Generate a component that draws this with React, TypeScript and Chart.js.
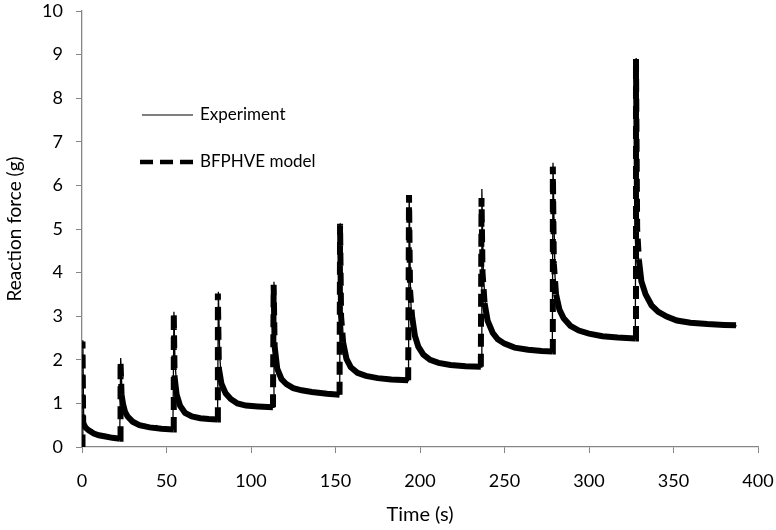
import React, { useEffect, useRef } from "react";
import { Chart, registerables } from "chart.js";

Chart.register(...registerables);

const expTime = [
  0, 0.5, 1.0, 1.6, 3, 5, 6, 7.5, 9, 11, 12, 14, 16, 18, 20, 22.3,
  22.9, 23.5, 24.3, 25.2, 26, 27.2, 29, 31, 33, 35, 37, 39, 42, 44, 46, 49, 51, 53.8,
  54.4, 55, 55.8, 56.8, 58.5, 60.7, 63, 65, 67, 69, 71, 73.6, 76, 78, 80.2,
  80.7, 81.5, 82.6, 84, 85.6, 87.5, 89.5, 92, 95.4, 98, 101, 104, 107, 109.3, 111, 113.3,
  113.6, 114.3, 115.2, 117, 119.1, 122, 125, 128, 131, 134.9, 137, 140, 142, 144.8, 147, 150, 152.5,
  152.8, 153.7, 154.6, 156.6, 158.5, 160.5, 164, 167, 170.4, 174, 178, 181, 184, 187, 190, 193.2,
  193.6, 194.4, 195, 196.5, 198, 200, 202, 205, 208, 212, 216, 220, 224, 227, 230, 233, 236.2,
  236.6, 237.5, 238.5, 239.5, 241, 243.4, 246, 249.3, 253, 259.2, 263, 266, 269, 272, 275, 278.3,
  278.7, 279.9, 281, 281.9, 284, 286.8, 290, 294.7, 299, 304.5, 309, 313, 317, 320, 323, 327.4,
  327.9, 328.6, 329.2, 330.5, 332.2, 335, 338.1, 342, 346, 350, 353.8, 358, 362, 366, 370, 373.6, 377, 380, 383, 387.4,
];
const expForce = [
  0, 2.45, 0.6, 0.47, 0.42, 0.36, 0.39, 0.31, 0.3, 0.26, 0.29, 0.24, 0.26, 0.2, 0.22, 0.18,
  2.04, 1.45, 1.15, 0.92, 0.82, 0.7, 0.62, 0.55, 0.52, 0.47, 0.52, 0.46, 0.45, 0.49, 0.43, 0.44, 0.41, 0.42,
  3.1, 2.0, 1.5, 1.15, 0.92, 0.77, 0.7, 0.72, 0.66, 0.64, 0.68, 0.63, 0.62, 0.64, 0.62,
  3.56, 2.1, 1.46, 1.3, 1.23, 1.13, 1.08, 1.01, 0.96, 0.93, 0.95, 0.91, 0.92, 0.9, 0.93, 0.91,
  3.79, 2.5, 1.9, 1.65, 1.54, 1.42, 1.35, 1.31, 1.28, 1.27, 1.22, 1.25, 1.19, 1.19, 1.22, 1.18, 1.21,
  5.13, 3.1, 2.5, 2.0, 1.85, 1.77, 1.68, 1.65, 1.61, 1.58, 1.56, 1.53, 1.55, 1.51, 1.54, 1.52,
  5.78, 3.5, 3.0, 2.65, 2.38, 2.22, 2.11, 2.02, 1.96, 1.91, 1.88, 1.87, 1.84, 1.86, 1.82, 1.85, 1.83,
  5.92, 3.98, 3.35, 2.99, 2.78, 2.61, 2.48, 2.38, 2.31, 2.26, 2.24, 2.19, 2.21, 2.17, 2.2, 2.18,
  6.52, 3.9, 3.5, 3.3, 3.05, 2.91, 2.78, 2.68, 2.62, 2.57, 2.53, 2.51, 2.48, 2.51, 2.47, 2.48,
  8.92, 6.0, 4.36, 3.9, 3.6, 3.38, 3.22, 3.08, 2.99, 2.92, 2.87, 2.85, 2.83, 2.86, 2.82, 2.82, 2.8, 2.83, 2.79, 2.78,
];

const modelTime = [
  0, 0.3, 0.7, 2, 4, 7, 10, 14, 18, 22.5,
  22.8, 23.4, 24.3, 25.5, 27, 30, 34, 40, 47, 54,
  54.3, 54.8, 56, 58, 61, 65, 70, 75, 80,
  80.4, 81, 82.5, 85, 88, 92, 97, 104, 113,
  113.4, 114, 115.5, 118, 121, 125, 130, 136, 145, 152.4,
  152.7, 153.3, 154.5, 156.5, 159, 163, 168, 175, 183, 193,
  193.5, 194.1, 195.3, 197, 199, 202, 206, 211, 218, 227, 236,
  236.4, 237, 238.2, 240, 243, 246, 250, 256, 264, 272, 278.3,
  278.6, 279.2, 280.5, 282.5, 285, 289, 294, 300, 308, 317, 327.4,
  327.8, 328.5, 329.5, 331, 333.5, 337, 341, 346, 352, 360, 370, 380, 387,
];
const modelForce = [
  0, 2.42, 0.55, 0.45, 0.38, 0.31, 0.27, 0.24, 0.21, 0.19,
  1.96, 1.2, 0.98, 0.8, 0.7, 0.58, 0.5, 0.45, 0.42, 0.4,
  3.08, 1.6, 1.2, 0.95, 0.78, 0.7, 0.66, 0.64, 0.63,
  3.52, 1.8, 1.45, 1.23, 1.1, 1.0, 0.95, 0.93, 0.91,
  3.72, 2.3, 1.8, 1.56, 1.44, 1.35, 1.3, 1.26, 1.22, 1.2,
  5.12, 3.0, 2.4, 2.02, 1.83, 1.7, 1.63, 1.58, 1.55, 1.53,
  5.78, 3.6, 3.0, 2.55, 2.3, 2.12, 2.0, 1.93, 1.88, 1.85, 1.84,
  5.71, 4.0, 3.3, 2.9, 2.62, 2.47, 2.37, 2.28, 2.23, 2.2, 2.19,
  6.43, 4.2, 3.5, 3.15, 2.95, 2.78, 2.67, 2.6, 2.54, 2.51, 2.49,
  8.9, 5.0, 4.3, 3.8, 3.5, 3.25, 3.1, 2.99, 2.9, 2.85, 2.82, 2.8, 2.79,
];

const seriesLabels = ["Experiment", "BFPHVE model"];
const xTitle = "Time (s)";
const yTitle = "Reaction force (g)";

const FONT = "Lato, 'Open Sans', sans-serif";
const DASH = [13, 7];

const legendPlugin = {
  id: "insideLegend",
  afterDraw(chart: any) {
    const ctx = chart.ctx;
    ctx.save();
    ctx.strokeStyle = "#000";
    ctx.fillStyle = "#000";
    ctx.font = `17px ${FONT}`;
    ctx.textBaseline = "middle";
    ctx.textAlign = "left";
    ctx.lineWidth = 1.2;
    ctx.setLineDash([]);
    ctx.beginPath();
    ctx.moveTo(142, 115);
    ctx.lineTo(193, 115);
    ctx.stroke();
    ctx.fillText(seriesLabels[0], 200, 115);
    ctx.lineWidth = 4.5;
    ctx.setLineDash(DASH);
    ctx.beginPath();
    ctx.moveTo(140, 162);
    ctx.lineTo(193, 162);
    ctx.stroke();
    ctx.setLineDash([]);
    ctx.fillText(seriesLabels[1], 200, 162);
    ctx.restore();
  },
};

export default function App() {
  const ref = useRef<HTMLCanvasElement | null>(null);

  useEffect(() => {
    if (!ref.current) return;
    const expData = expTime.map((t, i) => ({ x: t, y: expForce[i] }));
    const modelData = modelTime.map((t, i) => ({ x: t, y: modelForce[i] }));
    const chart = new Chart(ref.current, {
      type: "line",
      data: {
        datasets: [
          {
            label: seriesLabels[1],
            data: modelData,
            borderColor: "#000",
            borderWidth: 6,
            pointRadius: 0,
            tension: 0,
            order: 0,
            segment: {
              borderDash: (c: any) => {
                const dx = c.p1.x - c.p0.x;
                const dy = c.p1.y - c.p0.y;
                return Math.hypot(dx, dy) > 25 ? DASH : undefined;
              },
            },
          },
          {
            label: seriesLabels[0],
            data: expData,
            borderColor: "#000",
            borderWidth: 1.3,
            pointRadius: 0,
            tension: 0,
            order: 1,
          },
        ],
      },
      options: {
        animation: false,
        responsive: true,
        maintainAspectRatio: false,
        layout: { padding: { left: 0, right: 18, top: 11, bottom: 0 } },
        plugins: { legend: { display: false }, tooltip: { enabled: false } },
        scales: {
          x: {
            type: "linear",
            min: 0,
            max: 400,
            ticks: { stepSize: 50, color: "#000", font: { family: FONT, size: 18 }, padding: 17, maxRotation: 0 },
            grid: { display: true, drawOnChartArea: false, drawTicks: true, tickLength: 6, color: "#868686" },
            border: { color: "#868686", width: 1.3 },
            title: { display: true, text: xTitle, color: "#000", font: { family: FONT, size: 20 }, padding: { top: 0, bottom: 3 } },
            afterFit: (s: any) => {
              s.height = 83;
              s.paddingLeft = 0;
              s.paddingRight = 0;
            },
          },
          y: {
            min: 0,
            max: 10,
            ticks: { stepSize: 1, color: "#000", font: { family: FONT, size: 18 }, padding: 13 },
            grid: { display: true, drawOnChartArea: false, drawTicks: true, tickLength: 6, color: "#868686" },
            border: { color: "#868686", width: 1.3 },
            title: { display: true, text: yTitle, color: "#000", font: { family: FONT, size: 19 }, padding: { top: 3, bottom: 0 } },
            afterFit: (s: any) => {
              s.width = 82;
              s.paddingTop = 0;
              s.paddingBottom = 0;
            },
          },
        },
      },
      plugins: [legendPlugin],
    });
    return () => chart.destroy();
  }, []);

  return (
    <div style={{ position: "absolute", left: 0, top: 0, width: 776, height: 530, background: "#fff" }}>
      <canvas ref={ref} />
    </div>
  );
}
